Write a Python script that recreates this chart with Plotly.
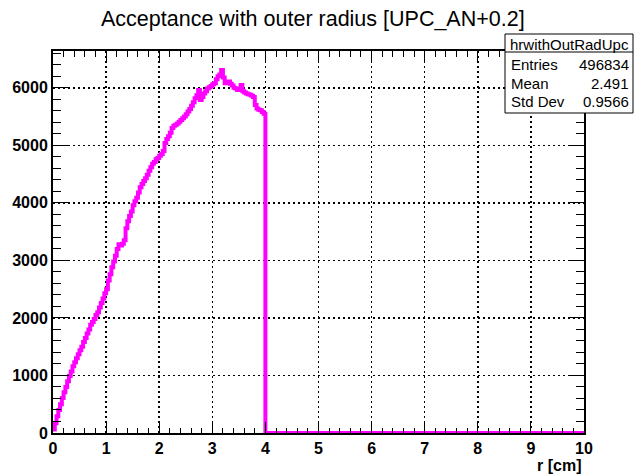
import plotly.graph_objects as go

# ---- data (bin width 1/30 cm, 300 bins on [0,10]) ----
n_bins = 300
r_min, r_max = 0.0, 10.0
counts_0_1 = [60, 170, 290, 400, 500, 610, 710, 800, 900, 990,
              1070, 1160, 1230, 1300, 1370, 1440, 1500, 1580, 1650, 1730,
              1800, 1880, 1930, 1980, 2050, 2100, 2180, 2260, 2340, 2430]
counts_1_2 = [2500, 2650, 2760, 2880, 2980, 3080, 3200, 3280, 3260, 3290,
              3350, 3560, 3680, 3770, 3850, 3960, 4030, 4090, 4180, 4270,
              4330, 4380, 4430, 4490, 4560, 4620, 4680, 4710, 4760, 4780]
counts_2_3 = [4820, 4850, 4900, 5040, 5110, 5160, 5220, 5300, 5340, 5360,
              5380, 5410, 5440, 5470, 5500, 5540, 5590, 5630, 5690, 5750,
              5820, 5870, 5960, 5790, 5840, 5900, 5940, 5990, 6010, 6030]
counts_3_4 = [6060, 6080, 6150, 6200, 6230, 6310, 6180, 6080, 6100, 6110,
              6070, 6040, 6000, 5990, 5960, 5970, 6050, 5940, 5920, 5900,
              5890, 5880, 5860, 5840, 5700, 5640, 5620, 5610, 5580, 5550]
counts_4_10 = [0] * 180

stats_name = "hrwithOutRadUpc"
stats_labels = ["Entries", "Mean", "Std Dev"]
stats_values = ["496834", "2.491", "0.9566"]

title_text = "Acceptance with outer radius [UPC_AN+0.2]"
x_title = "r [cm]"
y_max = 6640

counts = counts_0_1 + counts_1_2 + counts_2_3 + counts_3_4 + counts_4_10
width = (r_max - r_min) / n_bins
edges = [r_min + i * width for i in range(n_bins + 1)]
xs = edges[:-1] + [edges[-1]]
ys = counts + [counts[-1]]

fig = go.Figure()
fig.add_trace(go.Scatter(x=xs, y=ys, mode="lines", line_shape="hv",
                         line=dict(color="#ff00ff", width=4), showlegend=False,
                         hoverinfo="skip"))

L, R, T, B = 53, 584, 51, 433
W, H = 634, 474
PW, PH = R - L, B - T

def px(x):
    return (x - L) / PW

def py(y):
    return (B - y) / PH

tickfont = dict(family="Liberation Sans", size=16, color="black", weight="bold")
axis_common = dict(showline=True, linecolor="black", linewidth=2, mirror="allticks",
                   ticks="inside", tickcolor="black", tickwidth=1,
                   showgrid=True, gridcolor="black", gridwidth=1.5, griddash="2px,3px",
                   zeroline=False, tickfont=tickfont, layer="above traces")

fig.update_xaxes(range=[r_min, r_max], tick0=0, dtick=1, ticklen=11,
                 minor=dict(dtick=0.2, ticklen=5.5, ticks="inside", tickcolor="black", tickwidth=1, showgrid=False),
                 **axis_common)
fig.update_yaxes(range=[0, y_max], tick0=0, dtick=1000, ticklen=16,
                 minor=dict(dtick=200, ticklen=8, ticks="inside", tickcolor="black", tickwidth=1, showgrid=False),
                 **axis_common)

annotations = [
    dict(text=title_text, x=px(313), y=py(19), xref="paper", yref="paper",
         xanchor="center", yanchor="middle", showarrow=False,
         font=dict(family="Liberation Sans", size=21.5, color="black")),
    dict(text="<b>" + x_title + "</b>", x=px(583), y=py(465), xref="paper", yref="paper",
         xanchor="right", yanchor="middle", showarrow=False,
         font=dict(family="Liberation Sans", size=16, color="black")),
    dict(text=stats_name, x=px(569), y=py(44), xref="paper", yref="paper",
         xanchor="center", yanchor="middle", showarrow=False,
         font=dict(family="Liberation Sans", size=15, color="black")),
]
row_y = [64, 83, 102]
for lab, val, yy in zip(stats_labels, stats_values, row_y):
    annotations.append(dict(text=lab, x=px(509), y=py(yy), xref="paper", yref="paper",
                            xanchor="left", yanchor="middle", showarrow=False,
                            font=dict(family="Liberation Sans", size=15, color="black")))
    annotations.append(dict(text=val, x=px(631), y=py(yy), xref="paper", yref="paper",
                            xanchor="right", yanchor="middle", showarrow=False,
                            font=dict(family="Liberation Sans", size=15, color="black")))

shapes = [
    dict(type="rect", xref="paper", yref="paper", x0=px(505), x1=px(633), y0=py(113), y1=py(34),
         line=dict(color="black", width=1), fillcolor="white", layer="above"),
    dict(type="line", xref="paper", yref="paper", x0=px(505), x1=px(633), y0=py(52), y1=py(52),
         line=dict(color="black", width=1), layer="above"),
]

fig.update_layout(width=W, height=H, margin=dict(l=L, r=W - R, t=T, b=H - B, pad=0),
                  paper_bgcolor="white", plot_bgcolor="white",
                  annotations=annotations, shapes=shapes, showlegend=False)

fig.write_html("out.html", config={"displayModeBar": False, "staticPlot": True})

# remove the default page margin so the figure sits at the window's top-left corner
with open("out.html", "r", encoding="utf-8") as f:
    html = f.read()
html = html.replace("<head>", "<head><style>html,body{margin:0;padding:0;overflow:hidden;}</style>", 1)
with open("out.html", "w", encoding="utf-8") as f:
    f.write(html)
